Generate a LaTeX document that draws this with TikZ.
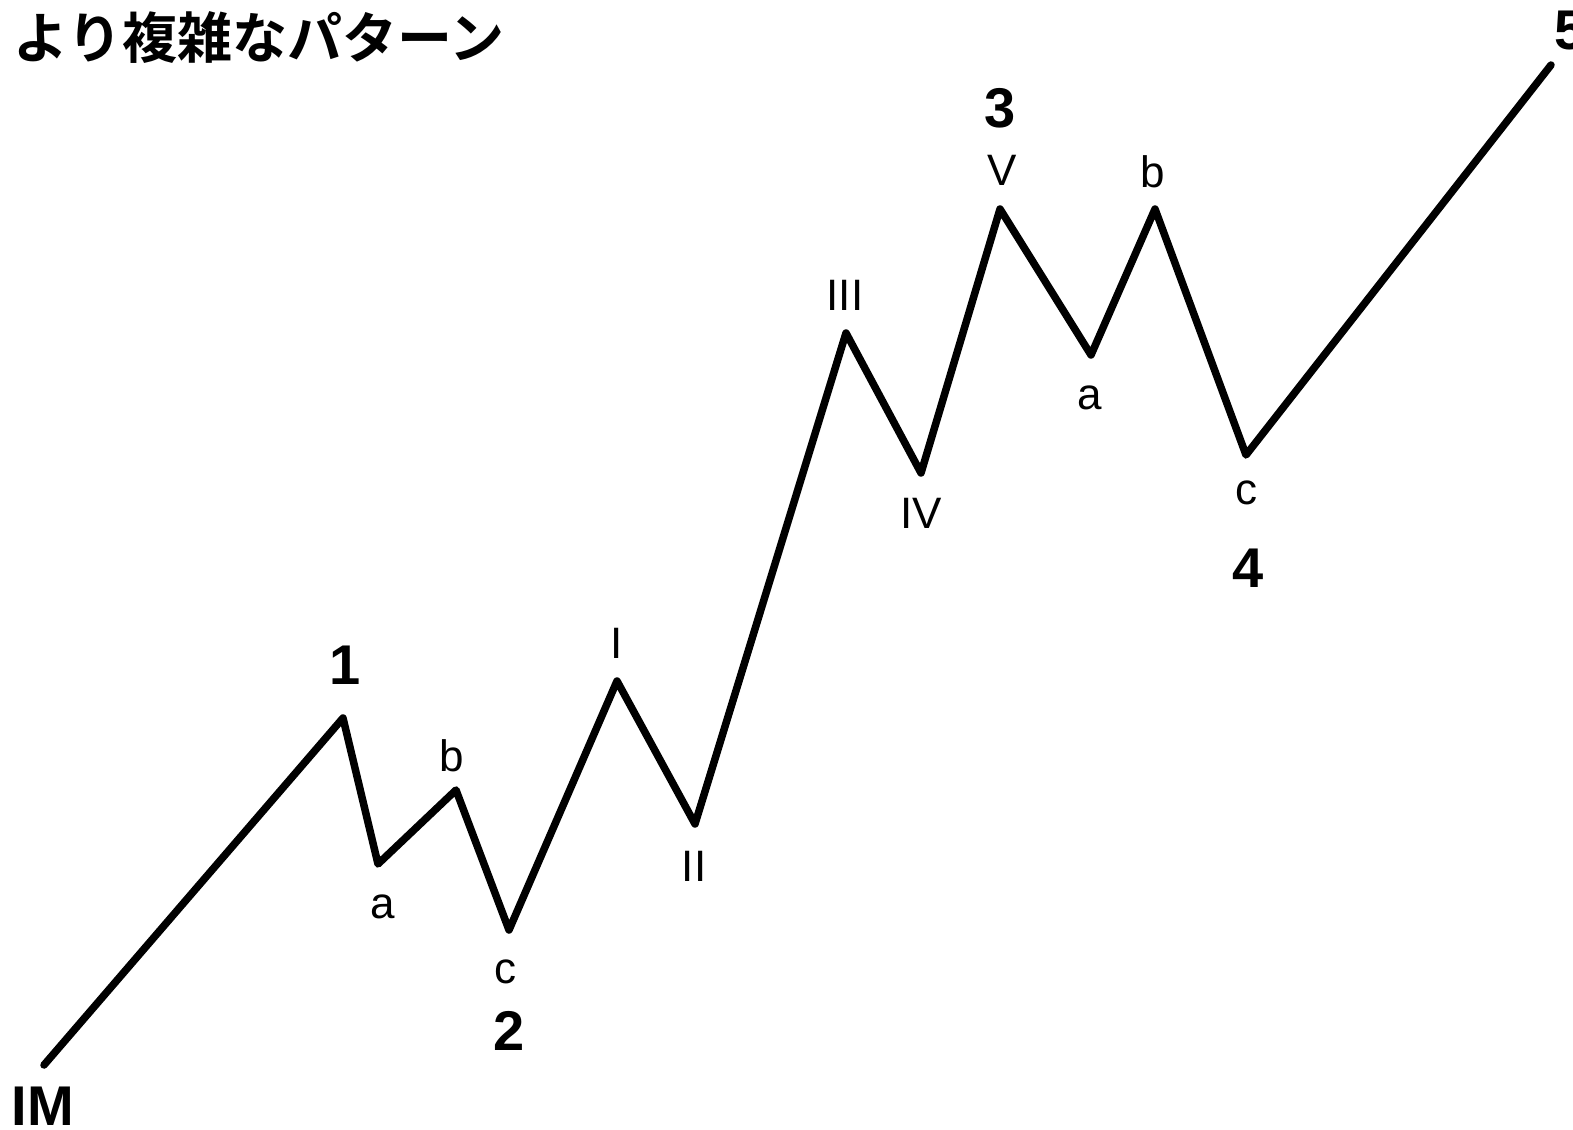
\documentclass[tikz,border=0pt]{standalone}
\usepackage{fontspec}
\setmainfont{Liberation Sans}
\newfontfamily\cjk{Noto Sans CJK JP}[BoldFont={* Bold}]
\begin{document}
\begin{tikzpicture}[x=1pt,y=-1pt,
  wave/.style={line width=7.5pt,line cap=round,line join=round},
  sub/.style={font=\fontsize{44}{44}\selectfont,inner sep=0pt},
  big/.style={font=\fontsize{56}{56}\selectfont\bfseries,inner sep=0pt}]
\path[use as bounding box,clip] (0,0) rectangle (1573,1129);
\fill[white] (0,0) rectangle (1573,1129);
\coordinate (p0) at (44,1065);
\coordinate (p1) at (343,718);
\coordinate (pa) at (378,864);
\coordinate (pb) at (456,790);
\coordinate (pc) at (509,930);
\coordinate (pI) at (617,681);
\coordinate (pII) at (695,824);
\coordinate (pIII) at (846,333);
\coordinate (pIV) at (921,473);
\coordinate (pV) at (1000,209);
\coordinate (qa) at (1091,355);
\coordinate (qb) at (1155,209);
\coordinate (qc) at (1246,455);
\coordinate (p5) at (1551,65);
\draw[wave] (p0) -- (p1) -- (pa) -- (pb) -- (pc) -- (pI) -- (pII) -- (pIII) -- (pIV) -- (pV) -- (qa) -- (qb) -- (qc) -- (p5);
\node[anchor=west,inner sep=0pt,font=\cjk\bfseries\fontsize{55}{55}\selectfont] (title) at (13,38) {より複雑なパターン};
\node[big] (n1) at (345,665) {1};
\node[sub] (la) at (383,907) {a};
\node[sub] (lb) at (452,756) {b};
\node[sub] (lc) at (505,972) {c};
\node[big] (n2) at (509,1031) {2};
\node[sub] (lI) at (617,643) {I};
\node[sub] (lII) at (694,866) {II};
\node[sub] (lIII) at (845,295) {III};
\node[sub] (lIV) at (921,513) {IV};
\node[big] (n3) at (1000,108) {3};
\node[sub] (lV) at (1002,170) {V};
\node[sub] (lb2) at (1153,172) {b};
\node[sub] (la2) at (1090,398) {a};
\node[sub] (lc2) at (1246,493) {c};
\node[big] (n4) at (1248,568) {4};
\node[big,anchor=west] (n5) at (1554,31) {5};
\node[big] (nIM) at (43,1106) {IM};
\end{tikzpicture}
\end{document}
